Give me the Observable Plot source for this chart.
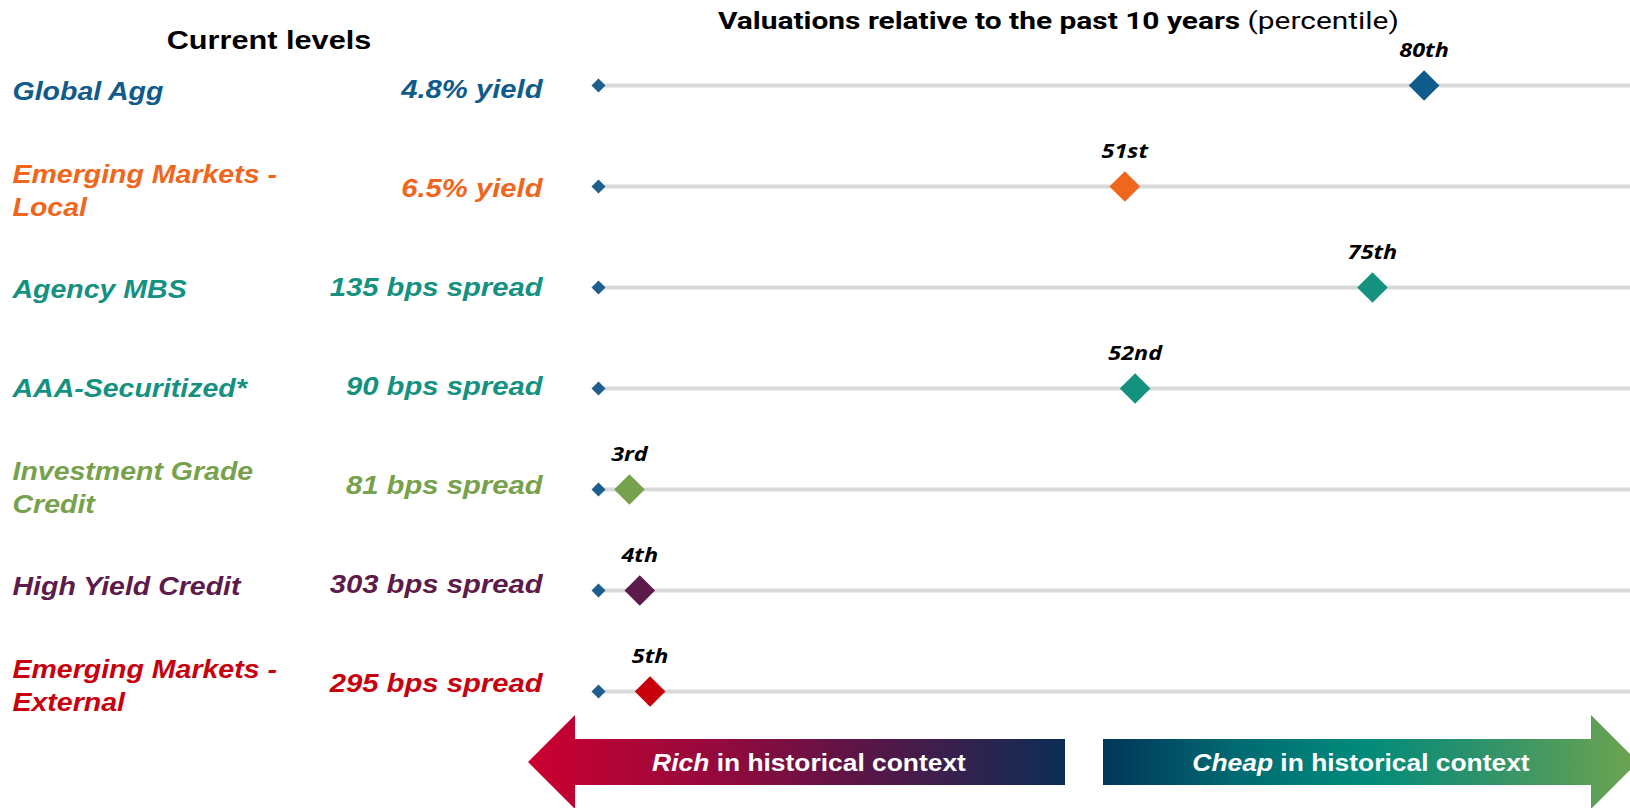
<!DOCTYPE html>
<html>
<head>
<meta charset="utf-8">
<script src="https://cdn.jsdelivr.net/npm/d3@7"></script>
<script src="https://cdn.jsdelivr.net/npm/@observablehq/plot@0.6"></script>
<style>
  html, body { margin: 0; padding: 0; background: #fff; }
  #page { position: relative; width: 1630px; height: 808px; overflow: hidden; }
  #page > * { position: absolute; }
  .title { left: 718px; top: 6px; font-family: Roboto, "Liberation Sans", sans-serif; font-size: 24px; line-height: 30px; color: #000; white-space: nowrap; transform: scaleX(1.245); transform-origin: left center; }
  .title b { font-weight: 700; }
  .title span { font-weight: 400; }
  .current { left: 269px; top: 24px; font-family: "Liberation Sans", Arial, sans-serif; font-weight: 700; font-size: 26px; line-height: 32px; color: #000; white-space: nowrap; transform: translateX(-50%) scaleX(1.18); }
</style>
</head>
<body>
<div id="page">
  <svg id="arrows" width="1630" height="808" style="left:0;top:0"></svg>
  <div class="title"><b>Valuations relative to the past 10 years</b><span> (percentile)</span></div>
  <div class="current">Current levels</div>
</div>
<script>
const assets = ["Global Agg", "Emerging Markets -\nLocal", "Agency MBS", "AAA-Securitized*", "Investment Grade\nCredit", "High Yield Credit", "Emerging Markets -\nExternal"];
const levels = ["4.8% yield", "6.5% yield", "135 bps spread", "90 bps spread", "81 bps spread", "303 bps spread", "295 bps spread"];
const percentiles = [80, 51, 75, 52, 3, 4, 5];
const percentileLabels = ["80th", "51st", "75th", "52nd", "3rd", "4th", "5th"];
const colors = ["#0f5b8c", "#f0661c", "#14917f", "#14917f", "#77a14c", "#5c1b4a", "#c8000e"];

const data = assets.map((a, i) => ({asset: a, level: levels[i], pct: percentiles[i], label: percentileLabels[i], color: colors[i]}));

function stretchGroup(g, k) {
  if (!g) return;
  g.querySelectorAll("text").forEach(t => {
    const tr = t.getAttribute("transform");
    if (tr && tr.includes("translate")) t.setAttribute("transform", tr + ` scale(${k},1)`);
    else {
      const x = +t.getAttribute("x") || 0;
      t.setAttribute("transform", `translate(${x},0) scale(${k},1) translate(${-x},0)`);
    }
  });
}
function textGroups(svg) {
  return Array.from(svg.querySelectorAll("g[aria-label='text']"));
}

const page = document.getElementById("page");

// Right: percentile strips
const right = Plot.plot({
  width: 1630, height: 715,
  marginLeft: 0, marginRight: 0, marginTop: 0, marginBottom: 0,
  x: {domain: [0, 100], range: [598, 1630], axis: null},
  y: {type: "point", domain: assets, range: [83, 692], padding: 0, axis: null},
  color: {type: "identity"},
  style: {background: "transparent", overflow: "visible"},
  marks: [
    Plot.ruleY(data, {y: "asset", x1: 0, x2: 100, stroke: "#d9d9d9", strokeWidth: 4}),
    Plot.dot(data, {x: 0, y: "asset", symbol: "diamond2", r: 6.3, fill: "#1d5e8e"}),
    Plot.dot(data, {x: "pct", y: "asset", symbol: "diamond2", r: 13.8, fill: "color"}),
    Plot.text(data, {x: "pct", y: "asset", text: "label", dy: -35, fill: "#000",
      fontSize: 19.5, fontWeight: "bold", fontStyle: "italic", fontFamily: "'Open Sans', sans-serif"})
  ]
});
stretchGroup(textGroups(right)[0], 1.2);
right.style.left = "0px"; right.style.top = "0px";
page.appendChild(right);

// Left: current levels table
const left = Plot.plot({
  width: 590, height: 715,
  marginLeft: 0, marginRight: 0, marginTop: 0, marginBottom: 0,
  y: {type: "point", domain: assets, range: [86, 683], padding: 0, axis: null},
  color: {type: "identity"},
  style: {background: "transparent", overflow: "visible"},
  marks: [
    Plot.text(data, {y: "asset", text: "asset", frameAnchor: "left", dx: 12, dy: 1, textAnchor: "start",
      fill: "color", fontSize: 25, fontWeight: "bold", fontStyle: "italic", lineHeight: 1.32,
      fontFamily: "'Liberation Sans', Arial, sans-serif"}),
    Plot.text(data, {y: "asset", text: "level", frameAnchor: "left", dx: 542, dy: 1, textAnchor: "end",
      fill: "color", fontSize: 25, fontWeight: "bold", fontStyle: "italic",
      fontFamily: "'Liberation Sans', Arial, sans-serif"})
  ]
});
const lg = textGroups(left);
stretchGroup(lg[0], 1.14);
stretchGroup(lg[1], 1.17);
left.style.left = "0px"; left.style.top = "0px";
page.appendChild(left);

// Bottom arrows (decoration)
const svg = d3.select("#arrows");
const defs = svg.append("defs");
const g1 = defs.append("linearGradient").attr("id", "gRich").attr("x1", "0%").attr("x2", "100%");
[["0%", "#cc0030"], ["35%", "#95093d"], ["65%", "#541748"], ["100%", "#0c2d55"]].forEach(([o, c]) => g1.append("stop").attr("offset", o).attr("stop-color", c));
const g2 = defs.append("linearGradient").attr("id", "gCheap").attr("x1", "0%").attr("x2", "100%");
[["0%", "#013658"], ["25%", "#016a72"], ["48%", "#008a7b"], ["72%", "#30936a"], ["100%", "#6ea44f"]].forEach(([o, c]) => g2.append("stop").attr("offset", o).attr("stop-color", c));

svg.append("path").attr("d", "M528,762 L575,715 L575,739 L1065,739 L1065,785 L575,785 L575,809 Z").attr("fill", "url(#gRich)");
svg.append("path").attr("d", "M1103,739 L1591,739 L1591,715 L1638,762 L1591,809 L1591,785 L1103,785 Z").attr("fill", "url(#gCheap)");

function arrowText(cx, word) {
  const t = svg.append("text")
    .attr("transform", `translate(${cx},771) scale(1.1,1)`)
    .attr("text-anchor", "middle")
    .attr("fill", "#fff")
    .attr("font-family", "'Liberation Sans', Arial, sans-serif")
    .attr("font-size", 24).attr("font-weight", "bold");
  t.append("tspan").attr("font-style", "italic").text(word);
  t.append("tspan").text(" in historical context");
}
arrowText(809, "Rich");
arrowText(1361, "Cheap");
</script>
</body>
</html>
